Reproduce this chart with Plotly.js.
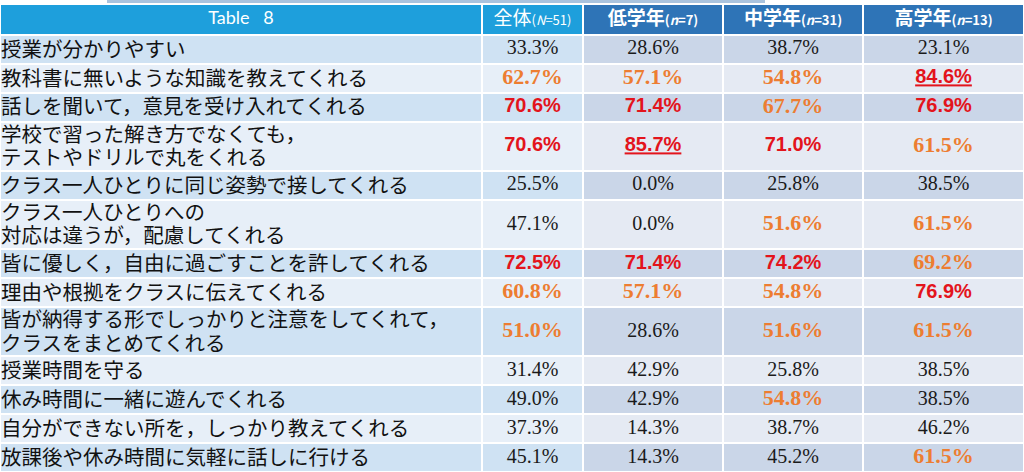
<!DOCTYPE html>
<html>
<head>
<meta charset="utf-8">
<script src="https://cdn.plot.ly/plotly-3.0.1.min.js"></script>
<style>html,body{margin:0;padding:0;background:#fff}</style>
</head>
<body>
<div id="chart" style="width:1024px;height:472px"></div>
<script>
var tableTitle = 'Table\u00a0\u00a0\u00a08';

var items = [
    '授業が分かりやすい',
    '教科書に無いような知識を教えてくれる',
    '話しを聞いて，意見を受け入れてくれる',
    '学校で習った解き方でなくても，<br>テストやドリルで丸をくれる',
    'クラス一人ひとりに同じ姿勢で接してくれる',
    'クラス一人ひとりへの<br>対応は違うが，配慮してくれる',
    '皆に優しく，自由に過ごすことを許してくれる',
    '理由や根拠をクラスに伝えてくれる',
    '皆が納得する形でしっかりと注意をしてくれて，<br>クラスをまとめてくれる',
    '授業時間を守る',
    '休み時間に一緒に遊んでくれる',
    '自分ができない所を，しっかり教えてくれる',
    '放課後や休み時間に気軽に話しに行ける'
];

var groups = ['全体', '低学年', '中学年', '高学年'];
var groupN = ['(<i>N</i>=51)', '(<i>n</i>=7)', '(<i>n</i>=31)', '(<i>n</i>=13)'];

var zentai = [33.3, 62.7, 70.6, 70.6, 25.5, 47.1, 72.5, 60.8, 51.0, 31.4, 49.0, 37.3, 45.1];
var tei    = [28.6, 57.1, 71.4, 85.7, 0.0, 0.0, 71.4, 57.1, 28.6, 42.9, 42.9, 14.3, 14.3];
var chu    = [38.7, 54.8, 67.7, 71.0, 25.8, 51.6, 74.2, 54.8, 51.6, 25.8, 54.8, 38.7, 45.2];
var kou    = [23.1, 84.6, 76.9, 61.5, 38.5, 61.5, 69.2, 76.9, 61.5, 38.5, 38.5, 46.2, 61.5];

var columns = [zentai, tei, chu, kou];

// layout (pixels)
var colW = [482, 101, 140, 140, 161];
var topY = 4, headH = 31, unitH = 28.94, lineGap = 23.5, labelShift = 2;

var xEdges = [0];
colW.forEach(function (w, i) { xEdges.push(xEdges[i] + w); });
var xMid = colW.map(function (w, i) { return xEdges[i] + w / 2; });

var yEdges = [topY, topY + headH];
items.forEach(function (t) {
    var n = t.split('<br>').length;
    yEdges.push(yEdges[yEdges.length - 1] + (n > 1 ? unitH * 1.7 : unitH));
});
var yMid = [];
for (var r = 0; r < yEdges.length - 1; r++) yMid.push((yEdges[r] + yEdges[r + 1]) / 2);

// cell background codes
var z = [];
z.push(colW.map(function (w, c) { return c <= 1 ? 0 : 1; }));
items.forEach(function (t, i) {
    z.push(colW.map(function (w, c) {
        if (c <= 1) return i % 2 === 0 ? 2 : 3;
        return i % 2 === 0 ? 4 : 5;
    }));
});
var fills = ['#1e9fdc', '#2e74b7', '#cfe2f3', '#e7eff8', '#cad6e8', '#e5eaf3'];
var scale = [];
fills.forEach(function (f, k) {
    scale.push([k / fills.length, f]);
    scale.push([(k + 1) / fills.length, f]);
});

var data = [{
    type: 'heatmap',
    x: xEdges,
    y: yEdges,
    z: z,
    zmin: -0.5,
    zmax: fills.length - 0.5,
    colorscale: scale,
    showscale: false,
    xgap: 2,
    ygap: 2,
    hoverinfo: 'skip'
}];

// row labels, one text point per line
var lx = [], ly = [], lt = [];
items.forEach(function (t, i) {
    var lines = t.split('<br>');
    lines.forEach(function (s, k) {
        lx.push(1);
        ly.push(yMid[i + 1] + labelShift + (k - (lines.length - 1) / 2) * lineGap);
        lt.push(s);
    });
});
data.push({
    type: 'scatter', mode: 'text',
    x: lx, y: ly, text: lt,
    textposition: 'middle right',
    textfont: {family: 'Noto Sans CJK JP', size: 20.5, color: '#111111'},
    hoverinfo: 'skip'
});

// header
data.push({
    type: 'scatter', mode: 'text',
    x: [xMid[0]], y: [yMid[0]], text: [tableTitle],
    textposition: 'middle center',
    textfont: {family: 'Lato, Noto Sans', size: 18, color: '#ffffff'},
    hoverinfo: 'skip'
});
var gt = groups.map(function (g, j) {
    var s = '<span style="font-size:13px">' + groupN[j] + '</span>';
    return j === 0 ? g + s : '<b>' + g + s + '</b>';
});
data.push({
    type: 'scatter', mode: 'text',
    x: xMid.slice(1), y: groups.map(function () { return yMid[0] + 1; }), text: gt,
    textposition: 'middle center',
    textfont: {family: 'Noto Sans CJK JP', size: 19, color: '#ffffff'},
    hoverinfo: 'skip'
});

// values, split by highlight level
var styles = [
    {test: function (v) { return v < 50; }, font: {family: 'Liberation Serif', size: 20, color: '#1a1a1a'}},
    {test: function (v) { return v >= 50 && v < 70; }, font: {family: 'Liberation Serif', size: 22, color: '#ed7d31', weight: 'bold'}},
    {test: function (v) { return v >= 70; }, font: {family: 'Liberation Sans', size: 20, color: '#e3141c', weight: 'bold'}}
];
styles.forEach(function (st) {
    var vx = [], vy = [], vt = [];
    columns.forEach(function (col, j) {
        col.forEach(function (v, i) {
            if (!st.test(v)) return;
            var s = v.toFixed(1) + '%';
            if (v >= 80) s = '<u>' + s + '</u>';
            vx.push(xMid[j + 1]);
            vy.push(yMid[i + 1]);
            vt.push(s);
        });
    });
    data.push({
        type: 'scatter', mode: 'text',
        x: vx, y: vy, text: vt,
        textposition: 'middle center',
        textfont: st.font,
        hoverinfo: 'skip'
    });
});

var layout = {
    width: 1024,
    height: 472,
    margin: {l: 0, r: 0, t: 0, b: 0},
    paper_bgcolor: '#ffffff',
    plot_bgcolor: '#ffffff',
    showlegend: false,
    xaxis: {range: [0, 1024], visible: false, fixedrange: true},
    yaxis: {range: [472, 0], visible: false, fixedrange: true},
    shapes: [{
        type: 'rect', xref: 'x', yref: 'y',
        x0: 107, x1: 765, y0: 0, y1: 3,
        fillcolor: '#a9c3de', line: {width: 0}, layer: 'below'
    }]
};

Plotly.newPlot('chart', data, layout, {staticPlot: true, displayModeBar: false});
</script>
</body>
</html>
